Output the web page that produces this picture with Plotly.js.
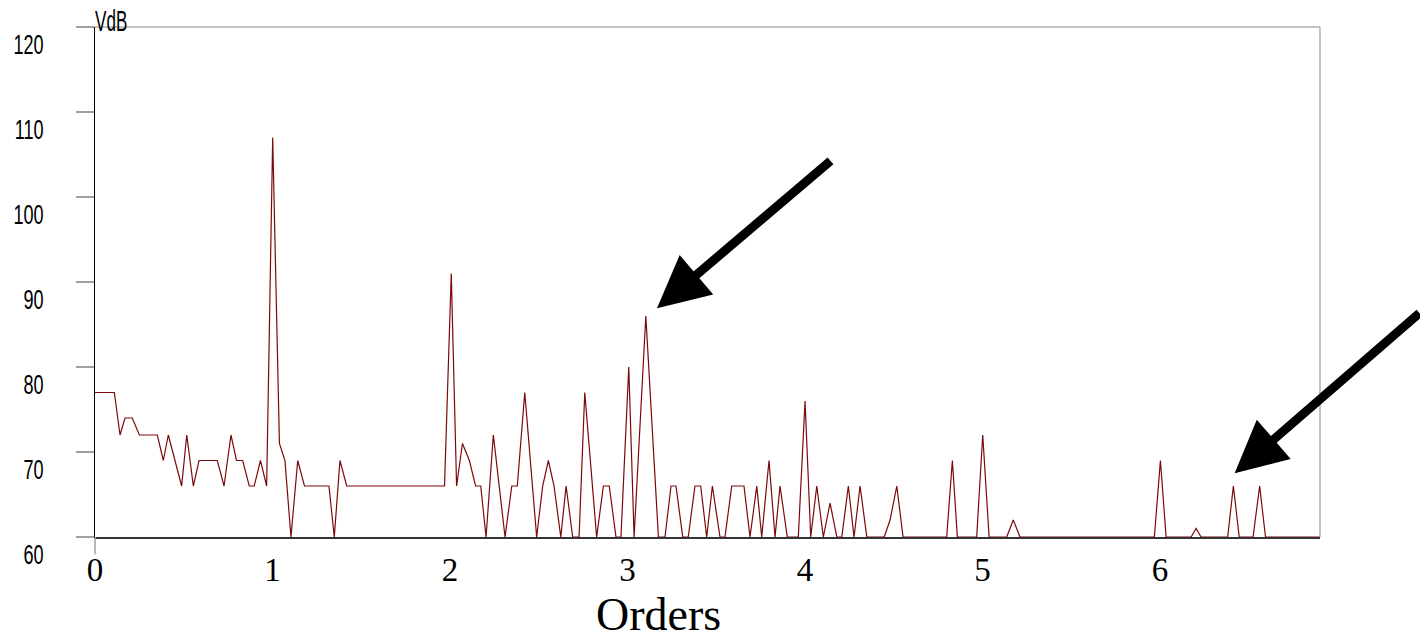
<!DOCTYPE html>
<html>
<head>
<meta charset="utf-8">
<script src="https://cdn.plot.ly/plotly-3.0.1.min.js"></script>
<style>
  html, body { margin: 0; padding: 0; background: #ffffff; }
  #chart { width: 1420px; height: 639px; }
</style>
</head>
<body>
<div id="chart"></div>
<script>
// ---- data ----
const orders = [0, 0.109, 0.141, 0.169, 0.210, 0.250, 0.351, 0.385, 0.413, 0.488, 0.517, 0.554, 0.586, 0.689, 0.727, 0.766, 0.797, 0.832, 0.869, 0.897, 0.932, 0.967, 1.001, 1.039, 1.070, 1.104, 1.142, 1.180, 1.318, 1.348, 1.380, 1.418, 1.969, 2.007, 2.037, 2.070, 2.109, 2.144, 2.173, 2.203, 2.244, 2.310, 2.348, 2.379, 2.421, 2.488, 2.522, 2.554, 2.586, 2.624, 2.654, 2.691, 2.727, 2.759, 2.826, 2.864, 2.897, 2.935, 2.963, 3.007, 3.037, 3.103, 3.174, 3.211, 3.245, 3.273, 3.311, 3.342, 3.380, 3.412, 3.446, 3.478, 3.521, 3.549, 3.587, 3.656, 3.690, 3.728, 3.756, 3.797, 3.831, 3.859, 3.900, 3.962, 4.000, 4.032, 4.066, 4.103, 4.141, 4.179, 4.207, 4.244, 4.276, 4.310, 4.348, 4.446, 4.479, 4.517, 4.552, 4.798, 4.830, 4.858, 4.967, 5.001, 5.037, 5.136, 5.173, 5.211, 5.968, 6.002, 6.034, 6.175, 6.203, 6.231, 6.381, 6.413, 6.446, 6.524, 6.561, 6.594, 6.901];
const vdb = [77, 77, 72, 74, 74, 72, 72, 69, 72, 66, 72, 66, 69, 69, 66, 72, 69, 69, 66, 66, 69, 66, 107, 71, 69, 60, 69, 66, 66, 60, 69, 66, 66, 91, 66, 71, 69, 66, 66, 60, 72, 60, 66, 66, 77, 60, 66, 69, 66, 60, 66, 60, 60, 77, 60, 66, 66, 60, 60, 80, 60, 86, 60, 60, 66, 66, 60, 60, 66, 66, 60, 66, 60, 60, 66, 66, 60, 66, 60, 69, 60, 66, 60, 60, 76, 60, 66, 60, 64, 60, 60, 66, 60, 66, 60, 60, 62, 66, 60, 60, 69, 60, 60, 72, 60, 60, 62, 60, 60, 69, 60, 60, 61, 60, 60, 66, 60, 60, 66, 60, 60];

const xTickVals = [0, 1, 2, 3, 4, 5, 6];
const xTickText = ['0', '1', '2', '3', '4', '5', '6'];
const yTickVals = [60, 70, 80, 90, 100, 110, 120];
const yTickText = ['60', '70', '80', '90', '100', '110', '120'];
const xTitle = 'Orders';
const yUnit = 'VdB';

// arrows: tip (order, dB) and tail (order, dB)
const arrowTipX = [3.166, 6.42];
const arrowTipY = [86.9, 67.5];
const arrowTailX = [4.152, 7.47];
const arrowTailY = [104.4, 86.5];

const arrows = arrowTipX.map((x, i) => ({
  x: x, y: arrowTipY[i], xref: 'x', yref: 'y',
  ax: arrowTailX[i], ay: arrowTailY[i], axref: 'x', ayref: 'y',
  text: '', showarrow: true, arrowhead: 2, arrowsize: 1.15,
  arrowwidth: 9, arrowcolor: '#000000'
}));

const trace = {
  x: orders, y: vdb, type: 'scatter', mode: 'lines',
  line: { color: '#7a0a0a', width: 1.2 },
  hoverinfo: 'skip'
};

const sansNarrow = 'Liberation Sans, Arial, sans-serif';

const layout = {
  width: 1420, height: 639,
  margin: { l: 95, r: 100, t: 27, b: 102, pad: 0 },
  paper_bgcolor: '#ffffff', plot_bgcolor: '#ffffff',
  showlegend: false,
  xaxis: {
    range: [0, 6.901], showgrid: false, zeroline: false,
    showline: true, linecolor: '#333333', linewidth: 1.5,
    ticks: '', tickvals: xTickVals, ticktext: xTickText,
    tickfont: { family: 'Liberation Serif, Times New Roman, serif', size: 33, color: '#000' },
    ticklabelstandoff: 3
  },
  yaxis: {
    range: [60, 120], showgrid: false, zeroline: false,
    showline: true, linecolor: '#000000', linewidth: 1,
    ticks: 'outside', ticklen: 18, tickwidth: 1.5, tickcolor: '#a0a0a0',
    tickvals: yTickVals, ticktext: yTickText,
    tickfont: { family: sansNarrow, size: 27, color: '#000' },
    ticklabelshift: 18, ticklabelstandoff: 27
  },
  shapes: [
    { type: 'line', xref: 'paper', yref: 'paper', x0: 0, x1: 1, y0: 1, y1: 1, line: { color: '#b0b0b0', width: 1.5 } },
    { type: 'line', xref: 'paper', yref: 'paper', x0: 1, x1: 1, y0: 0, y1: 1, line: { color: '#b0b0b0', width: 1.5 } },
    { type: 'line', xref: 'paper', yref: 'paper', x0: 0, x1: 0, y0: 0, y1: -0.034, line: { color: '#a0a0a0', width: 1.5 } }
  ],
  annotations: arrows.concat([
    { text: yUnit, xref: 'paper', yref: 'paper', x: 0, y: 1, xanchor: 'left', yanchor: 'bottom',
      showarrow: false, yshift: -12, xshift: -2,
      font: { family: sansNarrow, size: 30, color: '#000' } },
    { text: xTitle, xref: 'paper', yref: 'paper', x: 0.4604, y: 0, xanchor: 'center', yanchor: 'top',
      showarrow: false, yshift: -50,
      font: { family: 'Liberation Serif, Times New Roman, serif', size: 46, color: '#000' } }
  ])
};

// horizontally condense a text element around its left or right edge
function squeeze(t, s, side) {
  const b = t.getBBox();
  const ax = side === 'right' ? b.x + b.width : b.x;
  const prev = t.getAttribute('transform') || '';
  t.setAttribute('transform', prev + ' translate(' + ax + ',0) scale(' + s + ',1) translate(' + (-ax) + ',0)');
}

Plotly.newPlot('chart', [trace], layout, { displayModeBar: false, staticPlot: true }).then(gd => {
  gd.querySelectorAll('g.ytick text').forEach(t => squeeze(t, 0.67, 'right'));
  gd.querySelectorAll('text.annotation-text').forEach(t => {
    if (t.textContent === yUnit) squeeze(t, 0.57, 'left');
  });
});
</script>
</body>
</html>
